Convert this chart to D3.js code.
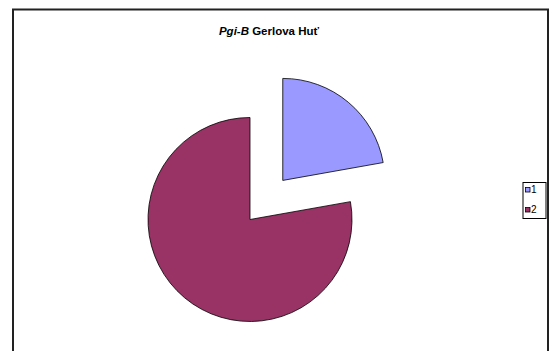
<!DOCTYPE html>
<html>
<head>
<meta charset="utf-8">
<script src="https://cdn.jsdelivr.net/npm/d3@7"></script>
<style>
  html, body { margin: 0; padding: 0; background: #fff; }
  svg { display: block; font-family: "Liberation Sans", Arial, sans-serif; }
</style>
</head>
<body>
<svg id="chart" width="552" height="351"></svg>
<script>
// Allele frequencies for the two classes
const categories = ["1", "2"];
const values = [0.222, 0.778];
const colors = ["#9999FF", "#993366"];
const explodedIndex = 0;

const svg = d3.select("#chart");
const W = 552, H = 351;

// Chart area frame (runs past the bottom edge)
svg.append("rect")
  .attr("x", 13).attr("y", 9.5)
  .attr("width", 535).attr("height", 360)
  .attr("fill", "#fff")
  .attr("stroke", "#222").attr("stroke-width", 2);

// Title
const title = svg.append("text")
  .attr("x", 269).attr("y", 35)
  .attr("text-anchor", "middle")
  .attr("font-size", 11.5)
  .attr("font-weight", "bold")
  .attr("fill", "#000");
title.append("tspan").attr("font-style", "italic").text("Pgi-B");
title.append("tspan").text(" Gerlova Huť");

// Pie
const cx = 250, cy = 219.5, r = 102, explode = 51;
const pie = d3.pie().sort(null).startAngle(0).endAngle(2 * Math.PI);
const arc = d3.arc().innerRadius(0).outerRadius(r);
const arcs = pie(values);

const g = svg.append("g").attr("transform", `translate(${cx},${cy})`);
g.selectAll("path.slice")
  .data(arcs)
  .join("path")
  .attr("class", "slice")
  .attr("d", arc)
  .attr("fill", (d, i) => colors[i])
  .attr("stroke", "#000")
  .attr("stroke-width", 0.8)
  .attr("stroke-linejoin", "miter")
  .attr("transform", (d, i) => {
    if (i !== explodedIndex) return null;
    const a = (d.startAngle + d.endAngle) / 2;
    return `translate(${explode * Math.sin(a)},${-explode * Math.cos(a)})`;
  });

// Legend
const lg = svg.append("g");
lg.append("rect")
  .attr("x", 523).attr("y", 182.5)
  .attr("width", 23).attr("height", 36)
  .attr("fill", "#fff")
  .attr("stroke", "#000").attr("stroke-width", 1);

const items = lg.selectAll("g.item")
  .data(categories)
  .join("g")
  .attr("class", "item")
  .attr("transform", (d, i) => `translate(0,${i * 20})`);
items.append("rect")
  .attr("x", 525.5).attr("y", 187.5)
  .attr("width", 4.5).attr("height", 4.5)
  .attr("fill", (d, i) => colors[i])
  .attr("stroke", "#000").attr("stroke-width", 0.8);
items.append("text")
  .attr("x", 531).attr("y", 193.3)
  .attr("font-size", 10)
  .attr("fill", "#000")
  .text(d => d);
</script>
</body>
</html>
